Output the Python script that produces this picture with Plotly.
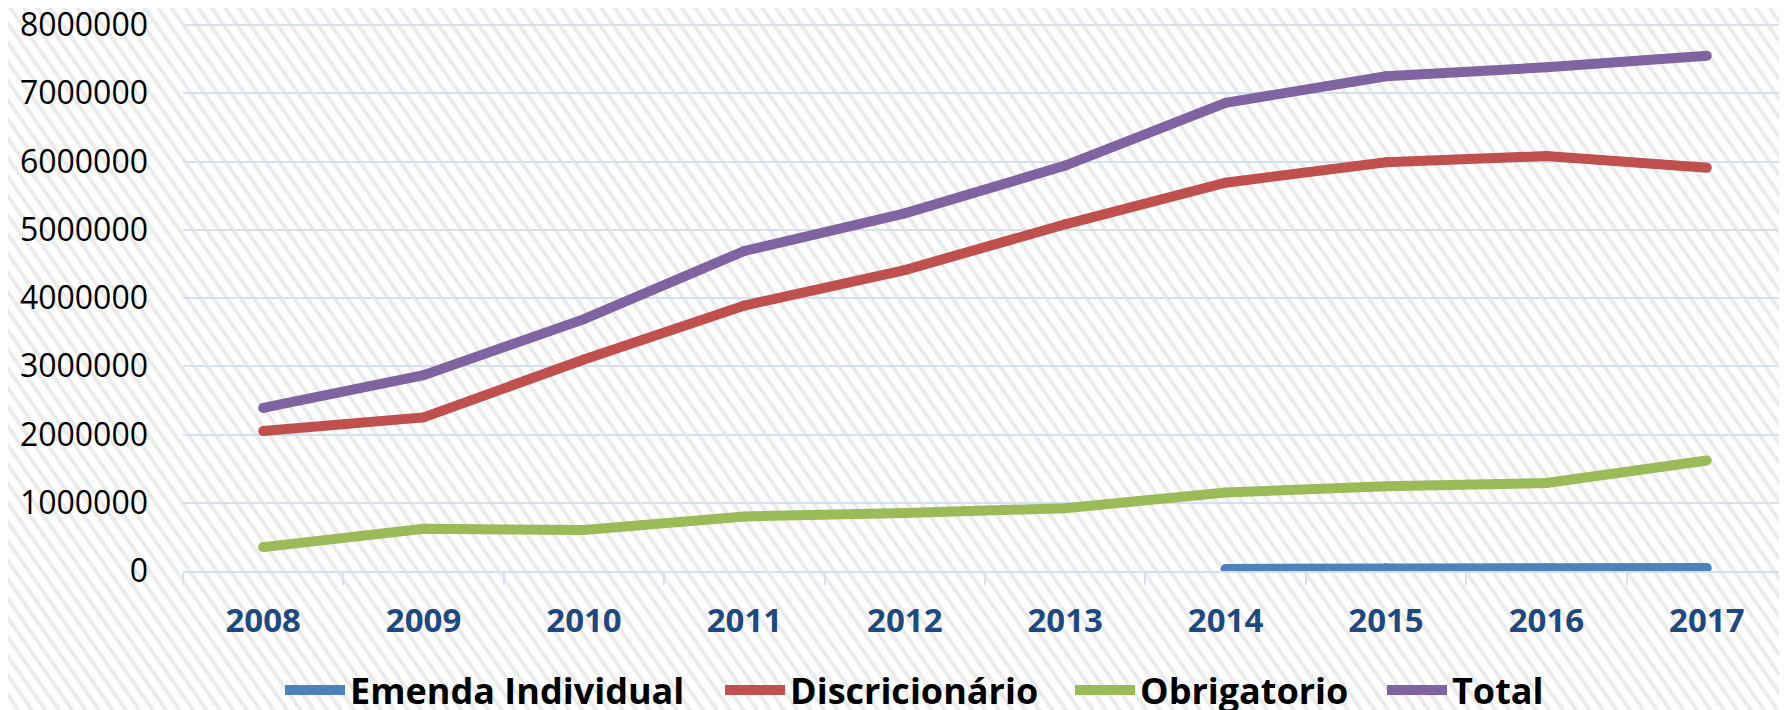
import base64
import plotly.graph_objects as go

years = ["2008", "2009", "2010", "2011", "2012", "2013", "2014", "2015", "2016", "2017"]
emenda_years = ["2014", "2015", "2016", "2017"]
emenda_individual = [30000, 40000, 40000, 45000]
discricionario = [2050000, 2250000, 3100000, 3890000, 4410000, 5080000, 5690000, 5990000, 6080000, 5910000]
obrigatorio = [350000, 620000, 600000, 800000, 850000, 920000, 1150000, 1240000, 1290000, 1620000]
total = [2390000, 2870000, 3690000, 4690000, 5240000, 5940000, 6860000, 7250000, 7380000, 7550000]
y_ticks = [0, 1000000, 2000000, 3000000, 4000000, 5000000, 6000000, 7000000, 8000000]

colors = {"Emenda Individual": "#4F81BD", "Discricionário": "#C0504D",
          "Obrigatorio": "#9BBB59", "Total": "#8064A2"}

series = [
    ("Emenda Individual", emenda_years, emenda_individual),
    ("Discricionário", years, discricionario),
    ("Obrigatorio", years, obrigatorio),
    ("Total", years, total),
]
legend_ids = ["legend", "legend2", "legend3", "legend4"]
legend_x = [272, 712, 1062, 1374]  # left edge of each legend entry (px, figure coords)

# page has an 8px body margin; figure fills the rest of the 1787x710 window
W, H = 1779, 702
L, R, T, B = 175, 0, 16, 139
pw, ph = W - L - R, H - T - B

fig = go.Figure()
for (name, xs, ys), lid in zip(series, legend_ids):
    fig.add_trace(go.Scatter(
        x=xs, y=ys, name=name, mode="lines+markers", legend=lid,
        line=dict(color=colors[name], width=10),
        marker=dict(color=colors[name], size=10, line=dict(width=0)),
    ))

# diagonal hatched background
svg = (
    f'<svg xmlns="http://www.w3.org/2000/svg" width="{W}" height="{H}">'
    '<defs><pattern id="p" width="11" height="11" patternUnits="userSpaceOnUse" '
    'patternTransform="rotate(-35)">'
    '<rect width="11" height="11" fill="#ffffff"/>'
    '<rect width="4" height="11" fill="#ebebeb"/></pattern></defs>'
    f'<rect width="{W}" height="{H}" fill="url(#p)"/></svg>'
)
src = "data:image/svg+xml;base64," + base64.b64encode(svg.encode()).decode()
fig.add_layout_image(dict(
    source=src, xref="paper", yref="paper",
    x=-L / pw, y=1 + T / ph, sizex=W / pw, sizey=H / ph,
    xanchor="left", yanchor="top", sizing="stretch", layer="below",
))

legend_common = dict(
    orientation="h", xref="container", yref="container",
    xanchor="left", y=20 / H, yanchor="middle",
    font=dict(family="Open Sans", size=36, color="#000000", weight="bold"),
    bgcolor="rgba(0,0,0,0)", itemwidth=60, borderwidth=0,
)
legends = {lid: dict(legend_common, x=lx / W) for lid, lx in zip(legend_ids, legend_x)}

grid = "#D5E1F1"
fig.update_layout(
    width=W, height=H,
    margin=dict(l=L, r=R, t=T, b=B, pad=0, autoexpand=False),
    paper_bgcolor="#ffffff", plot_bgcolor="rgba(0,0,0,0)",
    font=dict(family="Open Sans", color="#000000"),
    showlegend=True,
    **legends,
    xaxis=dict(
        type="category", categoryorder="array", categoryarray=years,
        range=[-0.5, 9.5],
        tickson="boundaries", ticks="outside", ticklen=12, tickwidth=1.5, tickcolor=grid,
        showline=True, linecolor=grid, linewidth=1.5,
        showgrid=False,
        tickfont=dict(family="Open Sans", size=33, color="#1F497D", weight="bold"),
        ticklabelstandoff=20,
    ),
    yaxis=dict(
        range=[0, 8015000], tickvals=y_ticks, ticktext=[str(v) for v in y_ticks],
        showgrid=True, gridcolor=grid, gridwidth=1.5,
        zeroline=False, showline=False, ticks="",
        tickfont=dict(family="Open Sans", size=32, color="#000000"),
        ticklabelstandoff=34, ticklabeloverflow="allow",
    ),
)

fig.write_html("out.html")
